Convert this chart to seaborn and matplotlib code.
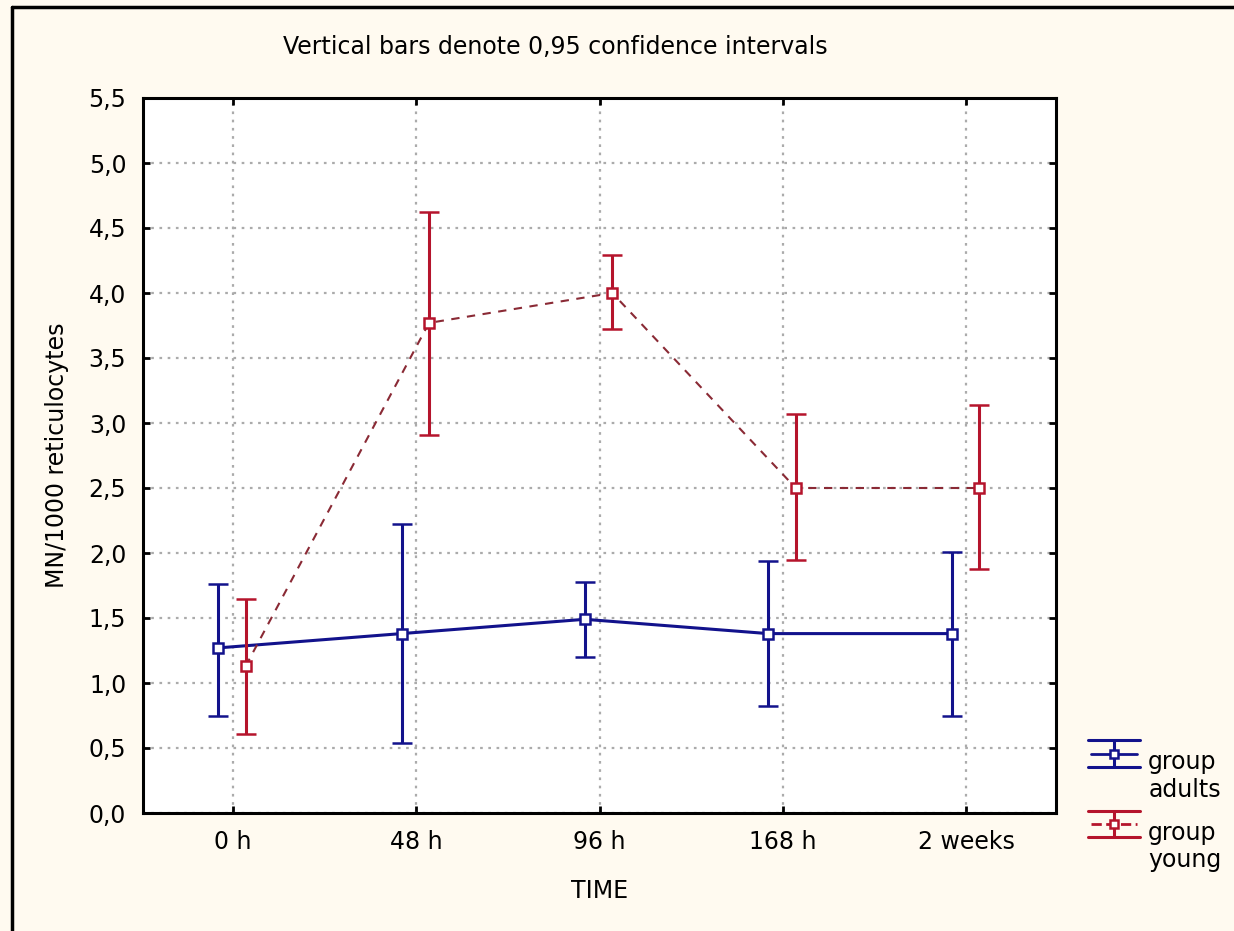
import numpy as np
import pandas as pd
import matplotlib
matplotlib.use("Agg")
import matplotlib.pyplot as plt
import seaborn as sns
from matplotlib.lines import Line2D
from matplotlib.legend_handler import HandlerBase

# ---- data ----
times = ["0 h", "48 h", "96 h", "168 h", "2 weeks"]
adults_mean = [1.27, 1.38, 1.49, 1.38, 1.38]
adults_lo = [0.75, 0.54, 1.20, 0.82, 0.75]
adults_hi = [1.76, 2.22, 1.78, 1.94, 2.01]
young_mean = [1.13, 3.77, 4.00, 2.50, 2.50]
young_lo = [0.61, 2.91, 3.72, 1.95, 1.88]
young_hi = [1.65, 4.62, 4.29, 3.07, 3.14]
groups = ["adults", "young"]
yticks = [0.0, 0.5, 1.0, 1.5, 2.0, 2.5, 3.0, 3.5, 4.0, 4.5, 5.0, 5.5]

BLUE = "#12128c"
RED = "#b5142c"
RED_LINE = "#8a2a35"
BG = "#fffaf0"
FS = 17

rows = []
for g, m, lo, hi, off in [("adults", adults_mean, adults_lo, adults_hi, -0.08),
                          ("young", young_mean, young_lo, young_hi, 0.07)]:
    for i, t in enumerate(times):
        rows.append(dict(group=g, time=t, xpos=i + off, mean=m[i], lo=lo[i], hi=hi[i]))
df = pd.DataFrame(rows)

sns.set_theme(style="white")
plt.rcParams["font.family"] = ["DejaVu Sans"]
plt.rcParams["text.color"] = "black"
plt.rcParams["axes.labelcolor"] = "black"
plt.rcParams["xtick.color"] = "black"
plt.rcParams["ytick.color"] = "black"

fig = plt.figure(figsize=(12.34, 9.31), dpi=100, facecolor=BG)
ax = fig.add_axes([143 / 1234, 1 - 813 / 931, (1056 - 143) / 1234, (813 - 98) / 931])
ax.set_facecolor("white")

sns.lineplot(data=df, x="xpos", y="mean", hue="group", style="group",
             palette={"adults": BLUE, "young": RED_LINE},
             dashes={"adults": "", "young": (4, 3.6)},
             legend=False, ax=ax, sort=True, estimator=None)
for ln, lw in zip(ax.get_lines(), [2.2, 1.5]):
    ln.set_linewidth(lw)

for g, col in [("adults", BLUE), ("young", RED)]:
    d = df[df.group == g]
    ax.errorbar(d.xpos, d["mean"], yerr=[d["mean"] - d.lo, d.hi - d["mean"]],
                fmt="s", color=col, ecolor=col, elinewidth=2.2, capsize=7.5,
                capthick=2.2, markersize=6.5, markerfacecolor="white",
                markeredgecolor=col, markeredgewidth=1.8, zorder=5)

ax.set_xlim(-0.49, 4.49)
ax.set_ylim(0, 5.5)
ax.set_xticks(range(len(times)))
ax.set_xticklabels(times)
ax.set_yticks(yticks)
ax.set_yticklabels([f"{v:.1f}".replace(".", ",") for v in yticks])
ax.tick_params(direction="in", length=5, width=2, colors="black",
               labelsize=FS, top=True, right=True, bottom=True, left=True,
               pad=12)
ax.grid(True, linestyle=(0, (1.2, 2.5)), color="#ababab", linewidth=1.6)
for s in ax.spines.values():
    s.set_color("black")
    s.set_linewidth(2.2)
ax.set_xlabel("TIME", fontsize=FS, labelpad=18, color="black")
ax.set_ylabel("MN/1000 reticulocytes", fontsize=FS, labelpad=14, color="black")

fig.text(555 / 1234, 1 - 47 / 931, "Vertical bars denote 0,95 confidence intervals",
         ha="center", va="center", fontsize=FS, color="black")

# outer frame (left and top edges visible)
fig.add_artist(Line2D([12 / 1234, 12 / 1234], [0, 1 - 7 / 931], color="black",
                      lw=2.5, transform=fig.transFigure))
fig.add_artist(Line2D([12 / 1234, 1], [1 - 7 / 931, 1 - 7 / 931], color="black",
                      lw=2.5, transform=fig.transFigure))


class ErrHandler(HandlerBase):
    def create_artists(self, legend, orig_handle, xdescent, ydescent, width,
                       height, fontsize, trans):
        c = orig_handle.get_color()
        ls = orig_handle.get_linestyle()
        x0, x1 = -xdescent, -xdescent + width
        xc = (x0 + x1) / 2
        ym = -ydescent + height / 2 + 17
        d = 9.5
        arts = [
            Line2D([x0, x1], [ym + d, ym + d], color=c, lw=2.2),
            Line2D([x0, x1], [ym - d, ym - d], color=c, lw=2.2),
            Line2D([xc, xc], [ym - d, ym + d], color=c, lw=2.2),
            Line2D([x0 + 2, x1 - 2], [ym, ym], color=c, lw=2.0, linestyle=ls),
            Line2D([xc], [ym], marker="s", markersize=6, markerfacecolor="white",
                   markeredgecolor=c, markeredgewidth=1.8, linestyle="none"),
        ]
        for a in arts:
            a.set_transform(trans)
        return arts


h_ad = Line2D([], [], color=BLUE, linestyle="-")
h_yo = Line2D([], [], color=RED, linestyle=(0, (3, 2)))
leg = fig.legend([h_ad, h_yo], ["group\nadults", "group\nyoung"],
                 handler_map={Line2D: ErrHandler()},
                 loc="upper left", bbox_to_anchor=(1088 / 1234, 1 - 750 / 931),
                 frameon=False, fontsize=FS, handlelength=2.2, handletextpad=0.35,
                 labelspacing=0.8, borderpad=0, borderaxespad=0)
for t in leg.get_texts():
    t.set_color("black")
    t.set_linespacing(1.2)

fig.savefig("out.png", dpi=100, facecolor=BG)
